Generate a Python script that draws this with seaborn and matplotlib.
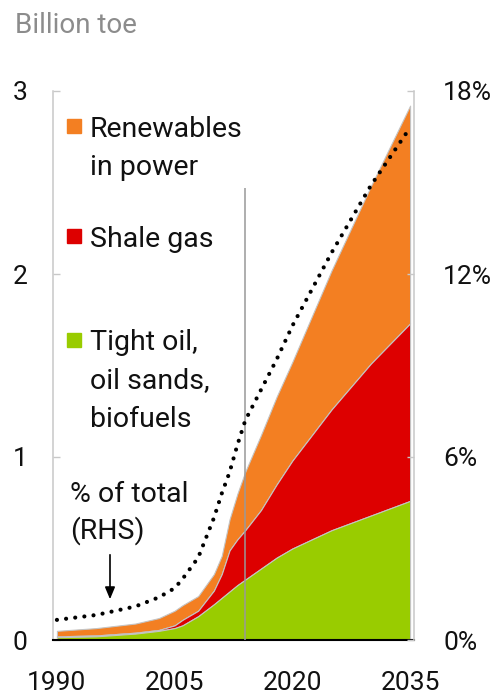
import matplotlib.pyplot as plt
import pandas as pd
import seaborn as sns

years = [1990, 1995, 2000, 2003, 2005, 2006, 2008, 2010, 2011, 2012, 2013,
         2014, 2016, 2018, 2020, 2025, 2030, 2035]
tight_oil = [0.015, 0.02, 0.035, 0.05, 0.065, 0.08, 0.13, 0.195, 0.23, 0.265,
             0.30, 0.33, 0.39, 0.45, 0.50, 0.60, 0.68, 0.76]
shale_gas = [0.005, 0.005, 0.005, 0.005, 0.015, 0.03, 0.03, 0.075, 0.13, 0.225,
             0.25, 0.27, 0.32, 0.40, 0.48, 0.66, 0.83, 0.97]
renewables = [0.03, 0.04, 0.05, 0.065, 0.08, 0.08, 0.08, 0.09, 0.10, 0.17,
              0.25, 0.32, 0.41, 0.48, 0.54, 0.76, 0.97, 1.19]
share_pct = [0.66, 0.82, 1.1, 1.4, 1.7, 2.0, 2.7, 4.0, 4.8, 5.5, 6.4, 7.2,
             8.2, 9.2, 10.3, 12.7, 14.9, 16.8]

x_ticks = [1990, 2005, 2020, 2035]
left_ticks = [0, 1, 2, 3]
right_ticks = [0, 6, 12, 18]
right_labels = ["0%", "6%", "12%", "18%"]
projection_start = 2014

GREEN = "#99CC00"
RED = "#DD0000"
ORANGE = "#F37F22"
EDGE = "#c4c4c4"
SPINE = "#c8c8c8"

df = pd.DataFrame({"year": years, "tight": tight_oil, "shale": shale_gas,
                   "renew": renewables, "share": share_pct})
df["top_tight"] = df["tight"]
df["top_shale"] = df["tight"] + df["shale"]
df["top_renew"] = df["top_shale"] + df["renew"]

sns.set_theme(style="white")
plt.rcParams["font.family"] = ["Roboto", "DejaVu Sans"]

fig = plt.figure(figsize=(4.99, 6.99), dpi=100)
W, H = 499, 699
L, R, T, B = 53, 414, 91, 640
ax = fig.add_axes([L / W, 1 - B / H, (R - L) / W, (B - T) / H])

ax.fill_between(df["year"], df["top_shale"], df["top_renew"], color=ORANGE,
                edgecolor=EDGE, linewidth=0.8)
ax.fill_between(df["year"], df["top_tight"], df["top_shale"], color=RED,
                edgecolor=EDGE, linewidth=0.8)
ax.fill_between(df["year"], 0, df["top_tight"], color=GREEN,
                edgecolor=EDGE, linewidth=0.8)
ax.vlines(projection_start, 0, 2.47, color="#999999", linewidth=1.1, zorder=3)

ax.set_xlim(1989.5, 2035.5)
ax.set_ylim(0, 3)
ax.set_xticks(x_ticks)
ax.set_yticks(left_ticks)
ax.set_xlabel("")
ax.set_ylabel("")
ax.tick_params(axis="y", direction="in", length=5, width=1, color=SPINE,
               pad=18.5, labelsize=19, labelcolor="#111111")
ax.tick_params(axis="x", length=0, pad=22.5, labelsize=19, labelcolor="#111111")
for side in ["top", "right"]:
    ax.spines[side].set_visible(False)
ax.spines["left"].set_color(SPINE)
ax.spines["left"].set_linewidth(1.1)
ax.spines["bottom"].set_color("black")
ax.spines["bottom"].set_linewidth(1.5)

ax2 = ax.twinx()
sns.lineplot(data=df, x="year", y="share", ax=ax2, color="black",
             linewidth=3, linestyle=(0, (0.01, 2.2)), dash_capstyle="round")
ax2.set_ylim(0, 18)
ax2.set_yticks(right_ticks)
ax2.set_yticklabels(right_labels)
ax2.set_ylabel("")
ax2.set_xlabel("")
ax2.tick_params(axis="y", direction="in", length=5, width=1, color=SPINE,
                pad=21, labelsize=19, labelcolor="#111111")
for side in ["top", "left", "bottom"]:
    ax2.spines[side].set_visible(False)
ax2.spines["right"].set_color(SPINE)
ax2.spines["right"].set_linewidth(1.1)


def axc(px, py):
    return (px - L) / (R - L), (B - py) / (B - T)


legend_items = [
    (ORANGE, ["Renewables", "in power"], 136.7, 126),
    (RED, ["Shale gas"], 247, 236),
    (GREEN, ["Tight oil,", "oil sands,", "biofuels"], 350, 340),
]
step = 38.3
for color, lines, base, sq in legend_items:
    ax2.plot(*axc(74, sq), marker="s", markersize=10.5, color=color,
             transform=ax2.transAxes, clip_on=False)
    for i, line in enumerate(lines):
        ax2.text(*axc(90, base + i * step), line, transform=ax2.transAxes,
                 fontsize=20.5, color="#111111", va="baseline", ha="left")

for i, line in enumerate(["% of total", "(RHS)"]):
    ax2.text(*axc(70, 501.7 + i * 37), line, transform=ax2.transAxes,
             fontsize=20.5, color="#111111", va="baseline", ha="left")
ax2.annotate("", xy=axc(110, 602), xytext=axc(110, 552),
             xycoords="axes fraction", textcoords="axes fraction",
             arrowprops=dict(arrowstyle="-|>,head_width=0.25,head_length=0.6",
                             color="black", linewidth=1.2))

fig.text(15 / W, 1 - 33.3 / H, "Billion toe", fontsize=20, color="#8c8c8c",
         va="baseline", ha="left")

fig.savefig("out.png", dpi=100)
